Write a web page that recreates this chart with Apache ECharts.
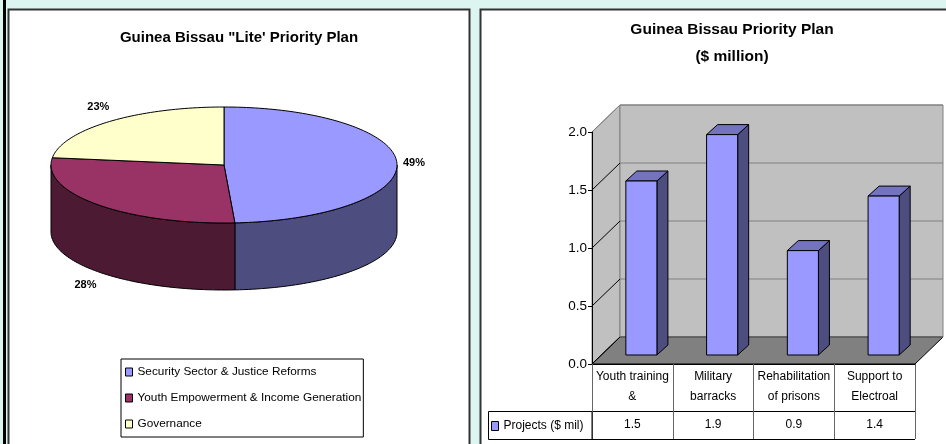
<!DOCTYPE html>
<html><head><meta charset="utf-8">
<script src="https://cdn.jsdelivr.net/npm/echarts@6/dist/echarts.min.js"></script>
<style>html,body{margin:0;padding:0;background:#DDF5F0}#c{width:946px;height:444px}</style>
</head><body><div id="c"></div><script>
// ---- data ----
const pieNames = ['Security Sector & Justice Reforms', 'Youth Empowerment & Income Generation', 'Governance'];
const pieValues = [49, 28, 23];
const barCategories = ['Youth training\n&', 'Military\nbarracks', 'Rehabilitation\nof prisons', 'Support to\nElectroal'];
const barValues = [1.5, 1.9, 0.9, 1.37];
const barSeriesName = 'Projects ($ mil)';
const yTicks = [0, 0.5, 1.0, 1.5, 2.0];

// ---- styles / geometry ----
const FONT = "'Liberation Sans', Arial, sans-serif";
const pieColors = ['#9999FF', '#993366', '#FFFFCC'];
const pieSideColors = ['#4D4D80', '#4D1A33', '#808066'];
const PIE = { cx: 224, cy: 165, rx: 173, ry: 58, depth: 67, lrx: 190, lry: 77 };
const WALL = { dx: 28, dy: 27 };
const BAR = { ox: 9, oy: 9, dx: 11, dy: 10, widthRatio: 0.385, front: '#9999FF', top: '#7373BF', side: '#4D4D80' };

const pieTotal = pieValues.reduce((a, b) => a + b, 0);

function renderSlice(k, api) {
  const v = api.value(0);
  let acc = 0;
  for (let j = 0; j < k; j++) acc += pieValues[j];
  const a0 = acc / pieTotal * 2 * Math.PI;
  const a1 = (acc + v) / pieTotal * 2 * Math.PI;
  const P = (t, dy) => [PIE.cx + PIE.rx * Math.sin(t), PIE.cy - PIE.ry * Math.cos(t) + (dy || 0)];
  const arc = (s, e, dy) => {
    const n = Math.max(2, Math.ceil((e - s) / (Math.PI / 120)));
    const pts = [];
    for (let i = 0; i <= n; i++) pts.push(P(s + (e - s) * i / n, dy));
    return pts;
  };
  const children = [];
  const s = Math.max(a0, Math.PI / 2), e = Math.min(a1, 3 * Math.PI / 2);
  if (e > s) {
    const pts = arc(s, e, 0).concat(arc(s, e, PIE.depth).reverse());
    children.push({ type: 'polygon', shape: { points: pts }, style: { fill: pieSideColors[k], stroke: '#000', lineWidth: 1 } });
  }
  children.push({ type: 'polygon', shape: { points: [[PIE.cx, PIE.cy]].concat(arc(a0, a1, 0)) }, style: { fill: pieColors[k], stroke: '#000', lineWidth: 1 } });
  const m = (a0 + a1) / 2;
  const lx = PIE.cx + PIE.lrx * Math.sin(m);
  let ly = PIE.cy - PIE.lry * Math.cos(m);
  if (Math.cos(m) < 0) ly += PIE.depth;
  children.push({ type: 'text', style: { text: Math.round(v / pieTotal * 100) + '%', x: lx, y: ly, align: 'center', verticalAlign: 'middle', font: 'bold 11px ' + FONT, fill: '#000' } });
  return { type: 'group', children };
}

function renderWalls(params, api) {
  const cs = params.coordSys;
  const L = cs.x, R = cs.x + cs.width, T = cs.y, B = cs.y + cs.height;
  const dx = WALL.dx, dy = WALL.dy;
  const ch = [];
  ch.push({ type: 'polygon', shape: { points: [[L, T], [L + dx, T - dy], [L + dx, B - dy], [L, B]] }, style: { fill: '#C0C0C0', stroke: '#808080', lineWidth: 1 } });
  ch.push({ type: 'rect', shape: { x: L + dx, y: T - dy, width: R - L, height: B - T }, style: { fill: '#C0C0C0', stroke: '#808080', lineWidth: 1 } });
  ch.push({ type: 'polygon', shape: { points: [[L, B], [L + dx, B - dy], [R + dx, B - dy], [R, B]] }, style: { fill: '#808080', stroke: '#000', lineWidth: 1 } });
  yTicks.forEach(v => {
    const y = api.coord([0, v])[1];
    ch.push({ type: 'line', shape: { x1: L + dx, y1: y - dy, x2: R + dx, y2: y - dy }, style: { stroke: '#808080', lineWidth: 1 } });
    ch.push({ type: 'line', shape: { x1: L, y1: y, x2: L + dx, y2: y - dy }, style: { stroke: v === yTicks[yTicks.length - 1] ? '#808080' : '#000', lineWidth: 1 } });
  });
  return { type: 'group', children: ch };
}

function renderBar(params, api) {
  const i = api.value(0), v = api.value(1);
  const top = api.coord([i, v]);
  const base = api.coord([i, 0]);
  const bw = api.size([1, 0])[0] * BAR.widthRatio;
  const xl = base[0] + BAR.ox - bw / 2, xr = xl + bw;
  const yb = base[1] - BAR.oy, yt = top[1] - BAR.oy;
  const dx = BAR.dx, dy = BAR.dy;
  return { type: 'group', children: [
    { type: 'polygon', shape: { points: [[xr, yt], [xr + dx, yt - dy], [xr + dx, yb - dy], [xr, yb]] }, style: { fill: BAR.side, stroke: '#000', lineWidth: 1 } },
    { type: 'polygon', shape: { points: [[xl, yt], [xr, yt], [xr + dx, yt - dy], [xl + dx, yt - dy]] }, style: { fill: BAR.top, stroke: '#000', lineWidth: 1 } },
    { type: 'rect', shape: { x: xl, y: yt, width: bw, height: yb - yt }, style: { fill: BAR.front, stroke: '#000', lineWidth: 1 } }
  ] };
}

const chart = echarts.init(document.getElementById('c'), null, { renderer: 'canvas' });

const pieSeries = pieNames.map((name, k) => ({
  type: 'custom', name: name, coordinateSystem: 'none', z: 2,
  itemStyle: { color: pieColors[k] },
  data: [[pieValues[k]]],
  renderItem: (params, api) => renderSlice(k, api)
}));

chart.setOption({
  animation: false,
  textStyle: { fontFamily: FONT },
  graphic: [
    { type: 'rect', z: -10, shape: { x: 0, y: 0, width: 946, height: 444 }, style: { fill: '#DDF5F0' } },
    { type: 'rect', z: -9, shape: { x: 3, y: 0, width: 3, height: 444 }, style: { fill: '#000' } },
    { type: 'rect', z: -9, shape: { x: 8.5, y: 9.5, width: 461, height: 445 }, style: { fill: '#fff', stroke: '#333', lineWidth: 2 } },
    { type: 'rect', z: -9, shape: { x: 480.5, y: 9.5, width: 475, height: 445 }, style: { fill: '#fff', stroke: '#333', lineWidth: 2 } },
    { type: 'rect', z: 5, shape: { x: 488.5, y: 411.5, width: 103.5, height: 28 }, style: { fill: 'none', stroke: '#000', lineWidth: 1 } },
    { type: 'line', z: 5, shape: { x1: 592, y1: 439.5, x2: 915, y2: 439.5 }, style: { stroke: '#000', lineWidth: 1 } }
  ],
  title: [
    { text: 'Guinea Bissau "Lite\' Priority Plan', left: 239, top: 29, textAlign: 'center', padding: 0,
      textStyle: { fontSize: 15, fontWeight: 'bold', color: '#000', fontFamily: FONT, lineHeight: 18 } },
    { text: 'Guinea Bissau Priority Plan\n($ million)', left: 732, top: 16, textAlign: 'center', padding: 0,
      textStyle: { fontSize: 15.5, fontWeight: 'bold', color: '#000', fontFamily: FONT, lineHeight: 27 } }
  ],
  legend: [
    { data: pieNames, orient: 'vertical', left: 121, top: 359, icon: 'rect', itemWidth: 7, itemHeight: 8, itemGap: 12,
      selectedMode: false, padding: [6, 2, 6, 4], borderColor: '#000', borderWidth: 1, backgroundColor: '#fff',
      itemStyle: { borderColor: '#000', borderWidth: 1 },
      textStyle: { fontSize: 11.8, lineHeight: 14, color: '#000', fontFamily: FONT } },
    { data: [barSeriesName], left: 491, top: 419, icon: 'rect', itemWidth: 7, itemHeight: 9, padding: 0,
      selectedMode: false, itemStyle: { borderColor: '#000', borderWidth: 1 },
      textStyle: { fontSize: 12, lineHeight: 14, color: '#000', fontFamily: FONT } }
  ],
  grid: { left: 592, right: 31, top: 132, bottom: 80, containLabel: false },
  xAxis: [
    { type: 'category', data: barCategories, gridIndex: 0, position: 'bottom',
      axisLine: { show: true, lineStyle: { color: '#000', width: 1 } },
      axisTick: { show: true, length: 47, interval: 0, lineStyle: { color: '#666' } },
      axisLabel: { interval: 0, fontSize: 12, lineHeight: 20, margin: 3, color: '#000', fontFamily: FONT },
      splitLine: { show: false } },
    { type: 'category', data: barValues.map(v => v.toFixed(1)), gridIndex: 0, position: 'bottom', offset: 47,
      axisLine: { show: true, lineStyle: { color: '#000', width: 1 } },
      axisTick: { show: true, length: 28, interval: 0, lineStyle: { color: '#666' } },
      axisLabel: { interval: 0, fontSize: 12, lineHeight: 14, margin: 7, color: '#000', fontFamily: FONT },
      splitLine: { show: false } }
  ],
  yAxis: { type: 'value', min: 0, max: 2, interval: 0.5,
    axisLine: { show: true, lineStyle: { color: '#000', width: 1 } },
    axisTick: { show: true, length: 4, lineStyle: { color: '#000' } },
    axisLabel: { fontSize: 13.5, margin: 5, color: '#000', fontFamily: FONT, formatter: v => v.toFixed(1) },
    splitLine: { show: false } },
  series: pieSeries.concat([
    { type: 'custom', name: '_walls', xAxisIndex: 0, yAxisIndex: 0, z: -1, silent: true,
      data: [[0, 0]], encode: { x: 0, y: 1 }, renderItem: renderWalls },
    { type: 'custom', name: barSeriesName, xAxisIndex: 0, yAxisIndex: 0, z: 2,
      itemStyle: { color: BAR.front },
      data: barValues.map((v, i) => [i, v]), encode: { x: 0, y: 1 }, renderItem: renderBar }
  ])
});
</script></body></html>
